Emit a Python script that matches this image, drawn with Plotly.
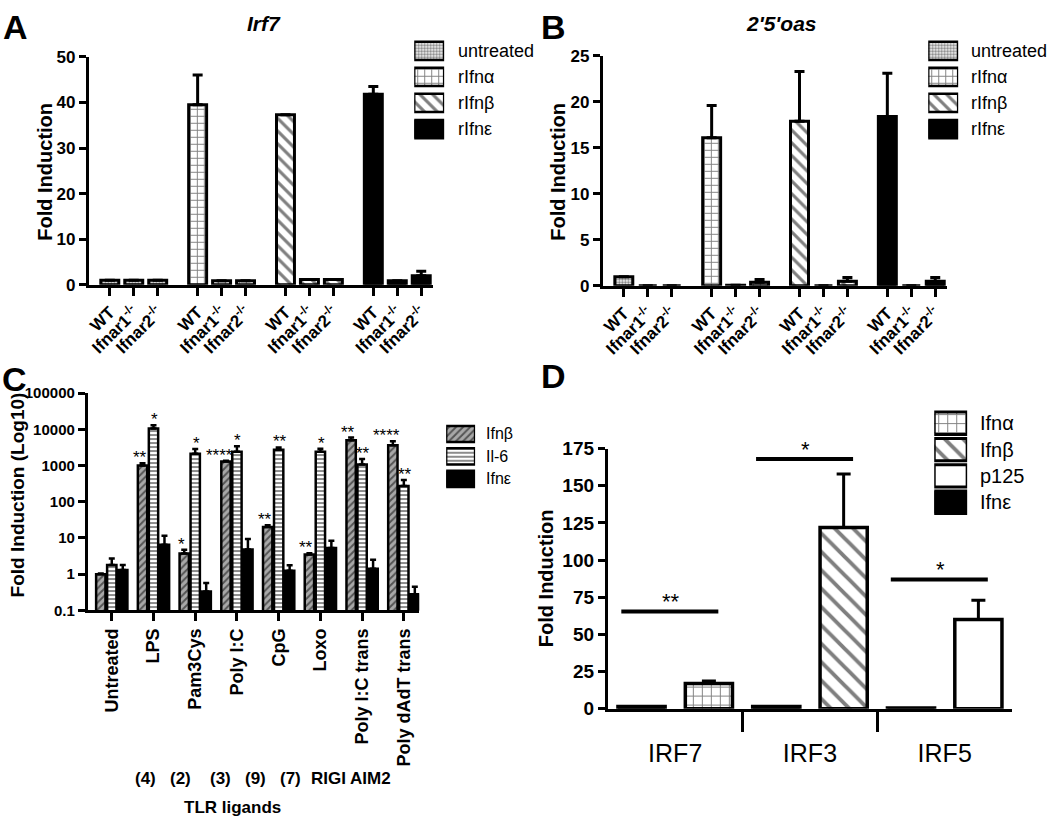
import math
import plotly.graph_objects as go

FONT = "Liberation Sans, Arial, Helvetica, sans-serif"
W, H = 1050, 829

# ---------------- Panel A / B data ----------------
genotypes = ["WT", "Ifnar1<sup>-/-</sup>", "Ifnar2<sup>-/-</sup>"]
ab_treatments = ["untreated", "rIfnα", "rIfnβ", "rIfnε"]

irf7_untreated = [1.0, 1.0, 1.0]
irf7_untreated_err = [0.0, 0.0, 0.0]
irf7_ifna = [39.5, 0.9, 0.9]
irf7_ifna_err = [6.5, 0.0, 0.0]
irf7_ifnb = [37.3, 1.2, 1.2]
irf7_ifnb_err = [0.0, 0.0, 0.0]
irf7_ifne = [41.8, 0.9, 2.0]
irf7_ifne_err = [1.7, 0.0, 1.0]

oas_untreated = [1.0, 0.0, 0.0]
oas_untreated_err = [0.0, 0.0, 0.0]
oas_ifna = [16.1, 0.05, 0.4]
oas_ifna_err = [3.5, 0.0, 0.3]
oas_ifnb = [17.9, 0.0, 0.5]
oas_ifnb_err = [5.4, 0.0, 0.4]
oas_ifne = [18.4, 0.0, 0.5]
oas_ifne_err = [4.7, 0.0, 0.4]

irf7_yticks = [0, 10, 20, 30, 40, 50]
oas_yticks = [0, 5, 10, 15, 20, 25]

# ---------------- Panel C data ----------------
tlr_ligands = ["Untreated", "LPS", "Pam3Cys", "Poly I:C", "CpG", "Loxo",
               "Poly I:C trans", "Poly dAdT trans"]
c_series = ["Ifnβ", "Il-6", "Ifnε"]
c_ifnb = [1.0, 1000, 3.7, 1280, 20, 3.5, 5000, 3600]
c_ifnb_err = [0.05, 150, 1.0, 80, 2.5, 0.3, 900, 1100]
c_il6 = [1.8, 10500, 2100, 2400, 2700, 2400, 1060, 270]
c_il6_err = [0.9, 2500, 750, 1000, 450, 500, 450, 130]
c_ifne = [1.3, 6.5, 0.33, 4.8, 1.25, 5.3, 1.4, 0.28]
c_ifne_err = [0.5, 5.0, 0.24, 4.5, 0.5, 3.0, 1.1, 0.17]
c_ifnb_sig = ["", "**", "*", "****", "**", "**", "**", "****"]
c_il6_sig = ["", "*", "*", "*", "**", "*", "**", "**"]
c_yticks = [0.1, 1, 10, 100, 1000, 10000, 100000]
c_ytick_text = ["0.1", "1", "10", "100", "1000", "10000", "100000"]
receptor_labels = ["(4)", "(2)", "(3)", "(9)", "(7)", "RIGI", "AIM2"]
receptor_group_title = "TLR ligands"

# ---------------- Panel D data ----------------
d_genes = ["IRF7", "IRF3", "IRF5"]
d_series = ["Ifnα", "Ifnβ", "p125", "Ifnε"]
d_ifna = [17.0, None, None]
d_ifna_err = [1.8, None, None]
d_ifnb = [None, 122.0, None]
d_ifnb_err = [None, 36.0, None]
d_p125 = [None, None, 60.0]
d_p125_err = [None, None, 13.0]
d_ifne = [1.5, 1.5, 0.6]
d_sig = ["**", "*", "*"]
d_sig_level = [65.5, 168.0, 87.0]
d_yticks = [0, 25, 50, 75, 100, 125, 150, 175]

# ---------------- styles ----------------
STYLES = {
    "checker": dict(bg="white", pattern=dict(shape=".", fgcolor="black", bgcolor="white", size=3, solidity=0.5)),
    "brick": dict(bg="white", pattern=dict(shape="+", fgcolor="black", bgcolor="white", size=7, solidity=0.25)),
    "diag": dict(bg="white", pattern=dict(shape="\\", fgcolor="black", bgcolor="white", size=9, solidity=0.35)),
    "solid": dict(bg="black", pattern=None),
    "graydiag": dict(bg="#a8a8a8", pattern=dict(shape="/", fgcolor="black", bgcolor="#a8a8a8", size=5, solidity=0.4)),
    "ladder": dict(bg="white", pattern=dict(shape="-", fgcolor="black", bgcolor="white", size=4, solidity=0.45)),
    "bigbrick": dict(bg="white", pattern=dict(shape="+", fgcolor="black", bgcolor="white", size=9, solidity=0.2)),
    "bigdiag": dict(bg="white", pattern=dict(shape="\\", fgcolor="black", bgcolor="white", size=13, solidity=0.3)),
    "white": dict(bg="white", pattern=None),
}


def px(x):
    return x / W


def py(y):
    return 1 - y / H


fig = go.Figure()
layout = {}
annotations = []
shapes = []


def marker_for(style, lw):
    st = STYLES[style]
    m = dict(color=st["bg"], line=dict(color="black", width=lw))
    if st["pattern"] is not None:
        m["pattern"] = st["pattern"]
    return m


def add_bars(xs, ys, errs, style, xa, ya, width, name, lw=3, ethick=3, ewidth=5):
    kw = {}
    if errs is not None:
        kw["error_y"] = dict(type="data", array=errs, arrayminus=[0] * len(errs), symmetric=False,
                             color="black", thickness=ethick, width=ewidth)
    fig.add_trace(go.Bar(x=xs, y=ys, width=width, xaxis=xa, yaxis=ya, name=name, showlegend=False,
                         marker=marker_for(style, lw), hoverinfo="skip", **kw))


def ann(text, x, y, size, bold=True, angle=0, xanchor="center", yanchor="middle", xref="paper", yref="paper",
        yshift=0, xshift=0):
    annotations.append(dict(text=text, x=x, y=y, xref=xref, yref=yref, showarrow=False,
                            font=dict(family=FONT, size=size, color="black", weight="bold" if bold else "normal"),
                            textangle=angle, xanchor=xanchor, yanchor=yanchor, yshift=yshift, xshift=xshift))


def axis_base(**kw):
    d = dict(showline=True, linecolor="black", linewidth=3, ticks="outside", ticklen=7, tickwidth=3,
             tickcolor="black", showgrid=False, zeroline=False, fixedrange=True,
             tickfont=dict(family=FONT, size=17, color="black", weight="bold"))
    d.update(kw)
    return d


# ---------------- Panels A and B ----------------
GROUP_GAP = 3.667
ab_styles = ["checker", "brick", "diag", "solid"]
panels_ab = [
    ("x", "y", [irf7_untreated, irf7_ifna, irf7_ifnb, irf7_ifne],
     [irf7_untreated_err, irf7_ifna_err, irf7_ifnb_err, irf7_ifne_err], irf7_yticks, 87, 48, 282),
    ("x2", "y2", [oas_untreated, oas_ifna, oas_ifnb, oas_ifne],
     [oas_untreated_err, oas_ifna_err, oas_ifnb_err, oas_ifne_err], oas_yticks, 602, 47, 283),
]
for xa, ya, means, errs, yt, x0, ytop, ybot in panels_ab:
    tickvals, ticktext = [], []
    for s, (m, e) in enumerate(zip(means, errs)):
        xs = [s * GROUP_GAP + i for i in range(len(genotypes))]
        tickvals += xs
        ticktext += genotypes
        add_bars(xs, m, e, ab_styles[s], xa, ya, 0.75, ab_treatments[s])
    xkey = "xaxis" + xa[1:]
    ykey = "yaxis" + ya[1:]
    layout[xkey] = axis_base(domain=[px(x0), px(x0 + 345)], range=[-0.875, 13.5], anchor=ya,
                             tickmode="array", tickvals=tickvals, ticktext=ticktext, tickangle=-45, ticklen=8,
                             tickfont=dict(family=FONT, size=17, color="black", weight="bold"))
    layout[ykey] = axis_base(domain=[py(ybot), py(ytop)], range=[0, yt[-1]], anchor=xa,
                             tickmode="array", tickvals=yt)

# ---------------- Panel C ----------------
C_GAP = 3.8
c_centers = [g * C_GAP for g in range(len(tlr_ligands))]
c_vals = [c_ifnb, c_il6, c_ifne]
c_errs = [c_ifnb_err, c_il6_err, c_ifne_err]
c_styles = ["graydiag", "ladder", "solid"]
for s in range(3):
    xs = [c + (s - 1) for c in c_centers]
    add_bars(xs, c_vals[s], c_errs[s], c_styles[s], "x3", "y3", 0.85, c_series[s], lw=2.5, ethick=2.5, ewidth=3)
for g, c in enumerate(c_centers):
    for s, sig in ((0, c_ifnb_sig[g]), (1, c_il6_sig[g])):
        if sig:
            top = c_vals[s][g] + c_errs[s][g]
            shift = -3 if s == 0 else 1
            if s == 0 and len(sig) >= 4:
                shift = -6
            ann(sig, c + (s - 1), math.log10(top), 17, bold=False, xref="x3", yref="y3",
                yanchor="bottom", yshift=-6, xshift=shift)
layout["xaxis3"] = axis_base(domain=[px(86), px(418)], range=[-2.18, 28.0], anchor="y3",
                             tickmode="array", tickvals=c_centers, ticktext=tlr_ligands, tickangle=-90, ticklen=8,
                             tickfont=dict(family=FONT, size=18, color="black", weight="bold"))
layout["yaxis3"] = axis_base(domain=[py(616), py(393)], type="log", range=[-1, 5], anchor="x3",
                             tickmode="array", tickvals=c_yticks, ticktext=c_ytick_text,
                             tickfont=dict(family=FONT, size=15, color="black", weight="bold"))

# ---------------- Panel D ----------------
def present(vals, errs, offset):
    xs, ys, es = [], [], []
    for g, v in enumerate(vals):
        if v is not None:
            xs.append(g + offset)
            ys.append(v)
            es.append(errs[g] if errs is not None else 0)
    return xs, ys, es

for vals, errs, style, name, off in [
    (d_ifne, None, "solid", "Ifnε", 0.25),
    (d_ifna, d_ifna_err, "bigbrick", "Ifnα", 0.75),
    (d_ifnb, d_ifnb_err, "bigdiag", "Ifnβ", 0.75),
    (d_p125, d_p125_err, "white", "p125", 0.75),
]:
    xs, ys, es = present(vals, errs, off)
    add_bars(xs, ys, es if errs is not None else None, style, "x4", "y4", 0.35, name,
             lw=3.5, ethick=3, ewidth=7)

for g, (sig, lvl) in enumerate(zip(d_sig, d_sig_level)):
    shapes.append(dict(type="line", xref="x4", yref="y4", x0=g + 0.1, x1=g + 0.82, y0=lvl, y1=lvl,
                       line=dict(color="black", width=4)))
    ann(sig, g + 0.47, lvl, 22, bold=False, xref="x4", yref="y4", yanchor="bottom", yshift=-5)

layout["xaxis4"] = axis_base(domain=[px(607), px(1012)], range=[0, 3], anchor="y4",
                             tickmode="array", tickvals=[g + 0.5 for g in range(len(d_genes))],
                             ticktext=d_genes, ticks="", ticklabelstandoff=20,
                             minor=dict(tickmode="array", tickvals=[1, 2], ticks="outside", ticklen=20,
                                        tickwidth=3, tickcolor="black", showgrid=False),
                             tickfont=dict(family=FONT, size=25, color="black", weight="normal"))
layout["yaxis4"] = axis_base(domain=[py(717), py(450)], range=[0, 175], anchor="x4",
                             tickmode="array", tickvals=d_yticks,
                             tickfont=dict(family=FONT, size=19, color="black", weight="bold"))

# ---------------- Legends (patterned swatches + labels) ----------------
def legend_block(idx, x0, x1, centers, styles, names, text_x, fsize, frac, lw):
    sp = centers[1] - centers[0]
    top, bot = centers[0] - sp / 2, centers[-1] + sp / 2
    xa, ya = f"x{idx}", f"y{idx}"
    layout[f"xaxis{idx}"] = dict(domain=[px(x0), px(x1)], range=[0, 1], visible=False, anchor=ya, fixedrange=True)
    layout[f"yaxis{idx}"] = dict(domain=[py(bot), py(top)], range=[len(names) - 0.5, -0.5], visible=False,
                                 anchor=xa, fixedrange=True)
    for i, (st, nm) in enumerate(zip(styles, names)):
        fig.add_trace(go.Bar(x=[1], y=[i], base=0, orientation="h", width=frac, xaxis=xa, yaxis=ya,
                             showlegend=False, hoverinfo="skip", marker=marker_for(st, lw)))
        ann(nm, px(text_x), py(centers[i]), fsize, bold=False, xanchor="left")

legend_block(5, 413, 443, [42, 69, 95, 122], ab_styles, ab_treatments, 455, 18, 0.7, 2.5)
legend_block(6, 928, 958, [42, 69, 95, 122], ab_styles, ab_treatments, 969, 18, 0.7, 2.5)
legend_block(7, 445, 474, [435, 458, 481], c_styles, c_series, 483, 16, 0.72, 2.5)
legend_block(8, 934, 967, [424, 451, 478, 505], ["bigbrick", "bigdiag", "white", "solid"], d_series,
             978, 20, 0.85, 3)

# ---------------- Titles, panel letters, axis titles ----------------
ann("A", px(14), py(17), 34, xanchor="center")
ann("B", px(553), py(17), 34)
ann("C", px(13), py(379), 34)
ann("D", px(553), py(376), 34)
ann("<i>Irf7</i>", px(262), py(14), 21)
ann("<i>2'5'oas</i>", px(781), py(14), 21)
ann("Fold Induction", px(43), py(166), 20, angle=-90)
ann("Fold Induction", px(557), py(166), 20, angle=-90)
ann("Fold Induction (Log10)", px(15), py(497), 19, angle=-90)
ann("Fold Induction", px(545), py(583), 20, angle=-90)

receptor_x = [144, 179, 219, 254, 289, 327, 369]
for lab, xx in zip(receptor_labels, receptor_x):
    ann(lab, px(xx), py(788), 17)
ann(receptor_group_title, px(231), py(818), 17)

layout.update(dict(
    width=W, height=H, autosize=False,
    margin=dict(l=0, r=0, t=0, b=0, pad=0),
    plot_bgcolor="white", paper_bgcolor="white",
    barmode="overlay", showlegend=False,
    font=dict(family=FONT, color="black"),
    annotations=annotations, shapes=shapes,
))
fig.update_layout(**layout)

fig.write_html("out.html", config={"displayModeBar": False},
               post_script="document.body.style.margin='0';document.body.style.overflow='hidden';")
